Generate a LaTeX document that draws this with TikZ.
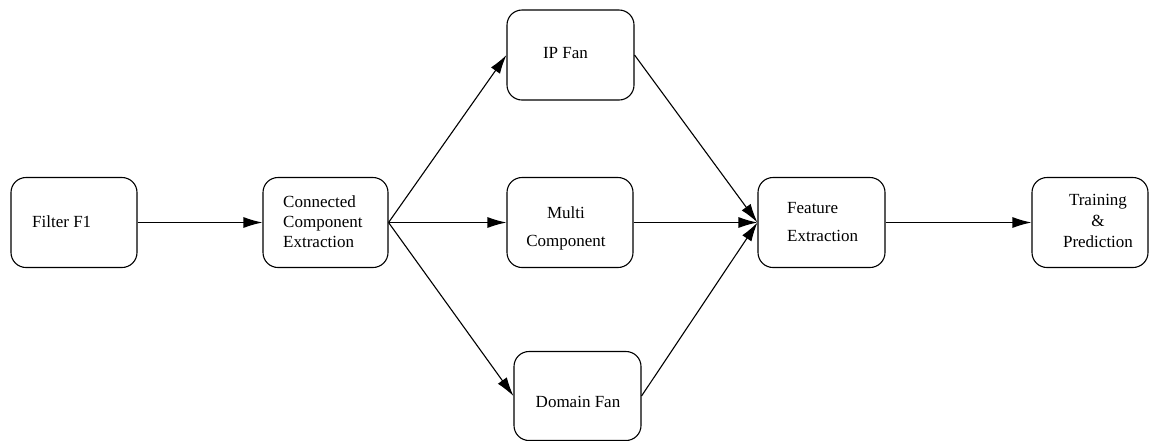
\documentclass[tikz,border=0pt]{standalone}
\usepackage{fontspec}
\setmainfont{Liberation Serif}
\usetikzlibrary{arrows.meta}
\begin{document}
\begin{tikzpicture}[x=1pt,y=-1pt,
  box/.style={draw,line width=1.1pt,rounded corners=15pt,minimum height=90pt,inner sep=0pt},
  txt/.style={inner sep=0pt,font=\fontsize{17}{20}\selectfont},
  conn/.style={line width=1.1pt,-{Latex[length=19pt,width=11pt]}}]
\useasboundingbox (0,0) rectangle (1151,440);
\node[box,minimum width=126pt] (f1) at (74,222.5) {};
\node[box,minimum width=125pt] (cce) at (325.5,222.5) {};
\node[box,minimum width=127pt] (ip) at (570.5,55) {};
\node[box,minimum width=126pt] (mc) at (570,222.5) {};
\node[box,minimum width=127pt,minimum height=89pt] (dom) at (577.5,396) {};
\node[box,minimum width=127pt] (fe) at (821.5,222.5) {};
\node[box,minimum width=116pt] (tp) at (1090,222.5) {};

\node[txt,anchor=west] (f1t) at (32,222) {Filter F1};
\node[txt,anchor=west,align=left] (ccet) at (283,222) {Connected\\Component\\Extraction};
\node[txt] (ipt) at (565.5,53) {IP Fan};
\node[txt,align=center,font=\fontsize{17}{28}\selectfont] (mct) at (566,228) {Multi\\Component};
\node[txt] (domt) at (578,402) {Domain Fan};
\node[txt,anchor=west,align=left,font=\fontsize{17}{28}\selectfont] (fet) at (787,222) {Feature\\Extraction};
\node[txt,align=center,font=\fontsize{17}{21}\selectfont] (tpt) at (1098,221) {Training\\\&\\Prediction};

\draw[conn] (f1.east) -- (cce.west);
\draw[conn] (cce.east) -- (ip.west);
\draw[conn] (cce.east) -- (mc.west);
\draw[conn] (cce.east) -- (dom.west);
\draw[conn] (ip.east) -- (fe.west);
\draw[conn] (mc.east) -- (fe.west);
\draw[conn] (dom.east) -- (fe.west);
\draw[conn] (fe.east) -- (tp.west);
\end{tikzpicture}
\end{document}
